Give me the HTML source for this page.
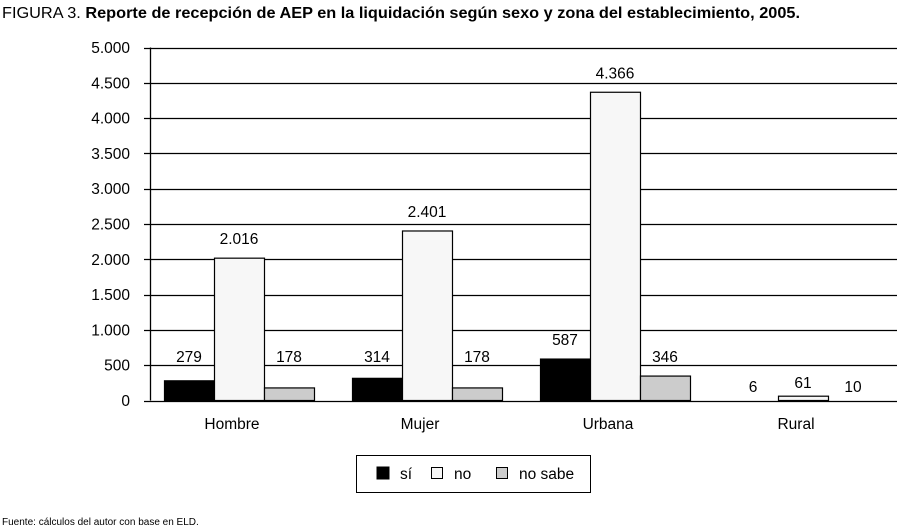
<!DOCTYPE html>
<html><head><meta charset="utf-8"><style>
body{margin:0;background:#fff;width:902px;height:531px;overflow:hidden;font-family:"Liberation Sans",sans-serif;}
</style></head><body>
<svg width="902" height="531" style="position:absolute;left:0;top:0">
<text x="2" y="18" font-size="15.5" fill="#000" textLength="798" lengthAdjust="spacingAndGlyphs">FIGURA 3. <tspan font-weight="bold">Reporte de recepción de AEP en la liquidación según sexo y zona del establecimiento, 2005.</tspan></text>
<g id="plot"></g>
<g>
<rect x="356.5" y="455.5" width="234" height="37" fill="#fff" stroke="#000"/>
<rect x="377" y="467" width="12" height="12" fill="#000" stroke="#000"/>
<text x="400" y="479" font-size="15.5">sí</text>
<rect x="431.5" y="467.5" width="11" height="11" fill="#f7f7f7" stroke="#000"/>
<text x="454" y="479" font-size="15.5">no</text>
<rect x="496.5" y="467.5" width="11" height="11" fill="#cccccc" stroke="#000"/>
<text x="519" y="479" font-size="15.5">no sabe</text>
</g>
<text x="2" y="525" font-size="10">Fuente: cálculos del autor con base en ELD.</text>
</svg>
<script>
const categories=["Hombre","Mujer","Urbana","Rural"];
const seriesNames=["sí","no","no sabe"];
const siValues=[279,314,587,6];
const noValues=[2016,2401,4366,61];
const noSabeValues=[178,178,346,10];
const valueLabels=[["279","314","587","6"],["2.016","2.401","4.366","61"],["178","178","346","10"]];
const yTicks=[0,500,1000,1500,2000,2500,3000,3500,4000,4500,5000];
const yTickLabels=["0","500","1.000","1.500","2.000","2.500","3.000","3.500","4.000","4.500","5.000"];
const NS="http://www.w3.org/2000/svg";
const g=document.getElementById("plot");
const x0=150,x1=897,y0=400.5,yTop=47.5,ymax=5000,groupW=188,barW=50;
function y(v){return y0-(v/ymax)*(y0-yTop);}
function gx(i){return x0+i*groupW;}
function mk(t,a){const e=document.createElementNS(NS,t);for(const k in a)e.setAttribute(k,a[k]);g.appendChild(e);return e;}
yTicks.forEach((v,i)=>{
 const l=mk("line",{x1:144,x2:x1,y1:Math.round(y(v))+0.5,y2:Math.round(y(v))+0.5,stroke:"#000","stroke-width":1.3});
 
 
 const t=mk("text",{x:130,y:y(v)+5.5,"font-size":15.5,"text-anchor":"end"});
 t.textContent=yTickLabels[i];
 
 
});
const ax=mk("line",{x1:x0+0.5,x2:x0+0.5,y1:yTop,y2:y0,stroke:"#000","stroke-width":1.3});


const series=[siValues,noValues,noSabeValues];
const fills=["#000","#f7f7f7","#cccccc"];
categories.forEach((c,i)=>{
 series.forEach((s,j)=>{
  const bx=gx(i)+14+j*barW;
  const h=Math.max(0,y0-y(s[i]));
  if(h>=1.5){
   const r=mk("rect",{x:bx+0.5,y:y(s[i]),width:barW,height:h,fill:fills[j],stroke:"#000","stroke-width":1.2});
   
   
  }
  let by=Math.min(y(s[i])-14,362);
  if(s[i]<100) by=Math.min(y(s[i])-8,393);
  const t=mk("text",{x:bx+barW/2,y:by,"font-size":15.5,"text-anchor":"middle"});
  t.textContent=valueLabels[j][i];
  
  
 });
 const t=mk("text",{x:gx(i)+14+75-7,y:429,"font-size":15.5,"text-anchor":"middle"});
 t.textContent=c;
 
 
});
</script>
</body></html>
